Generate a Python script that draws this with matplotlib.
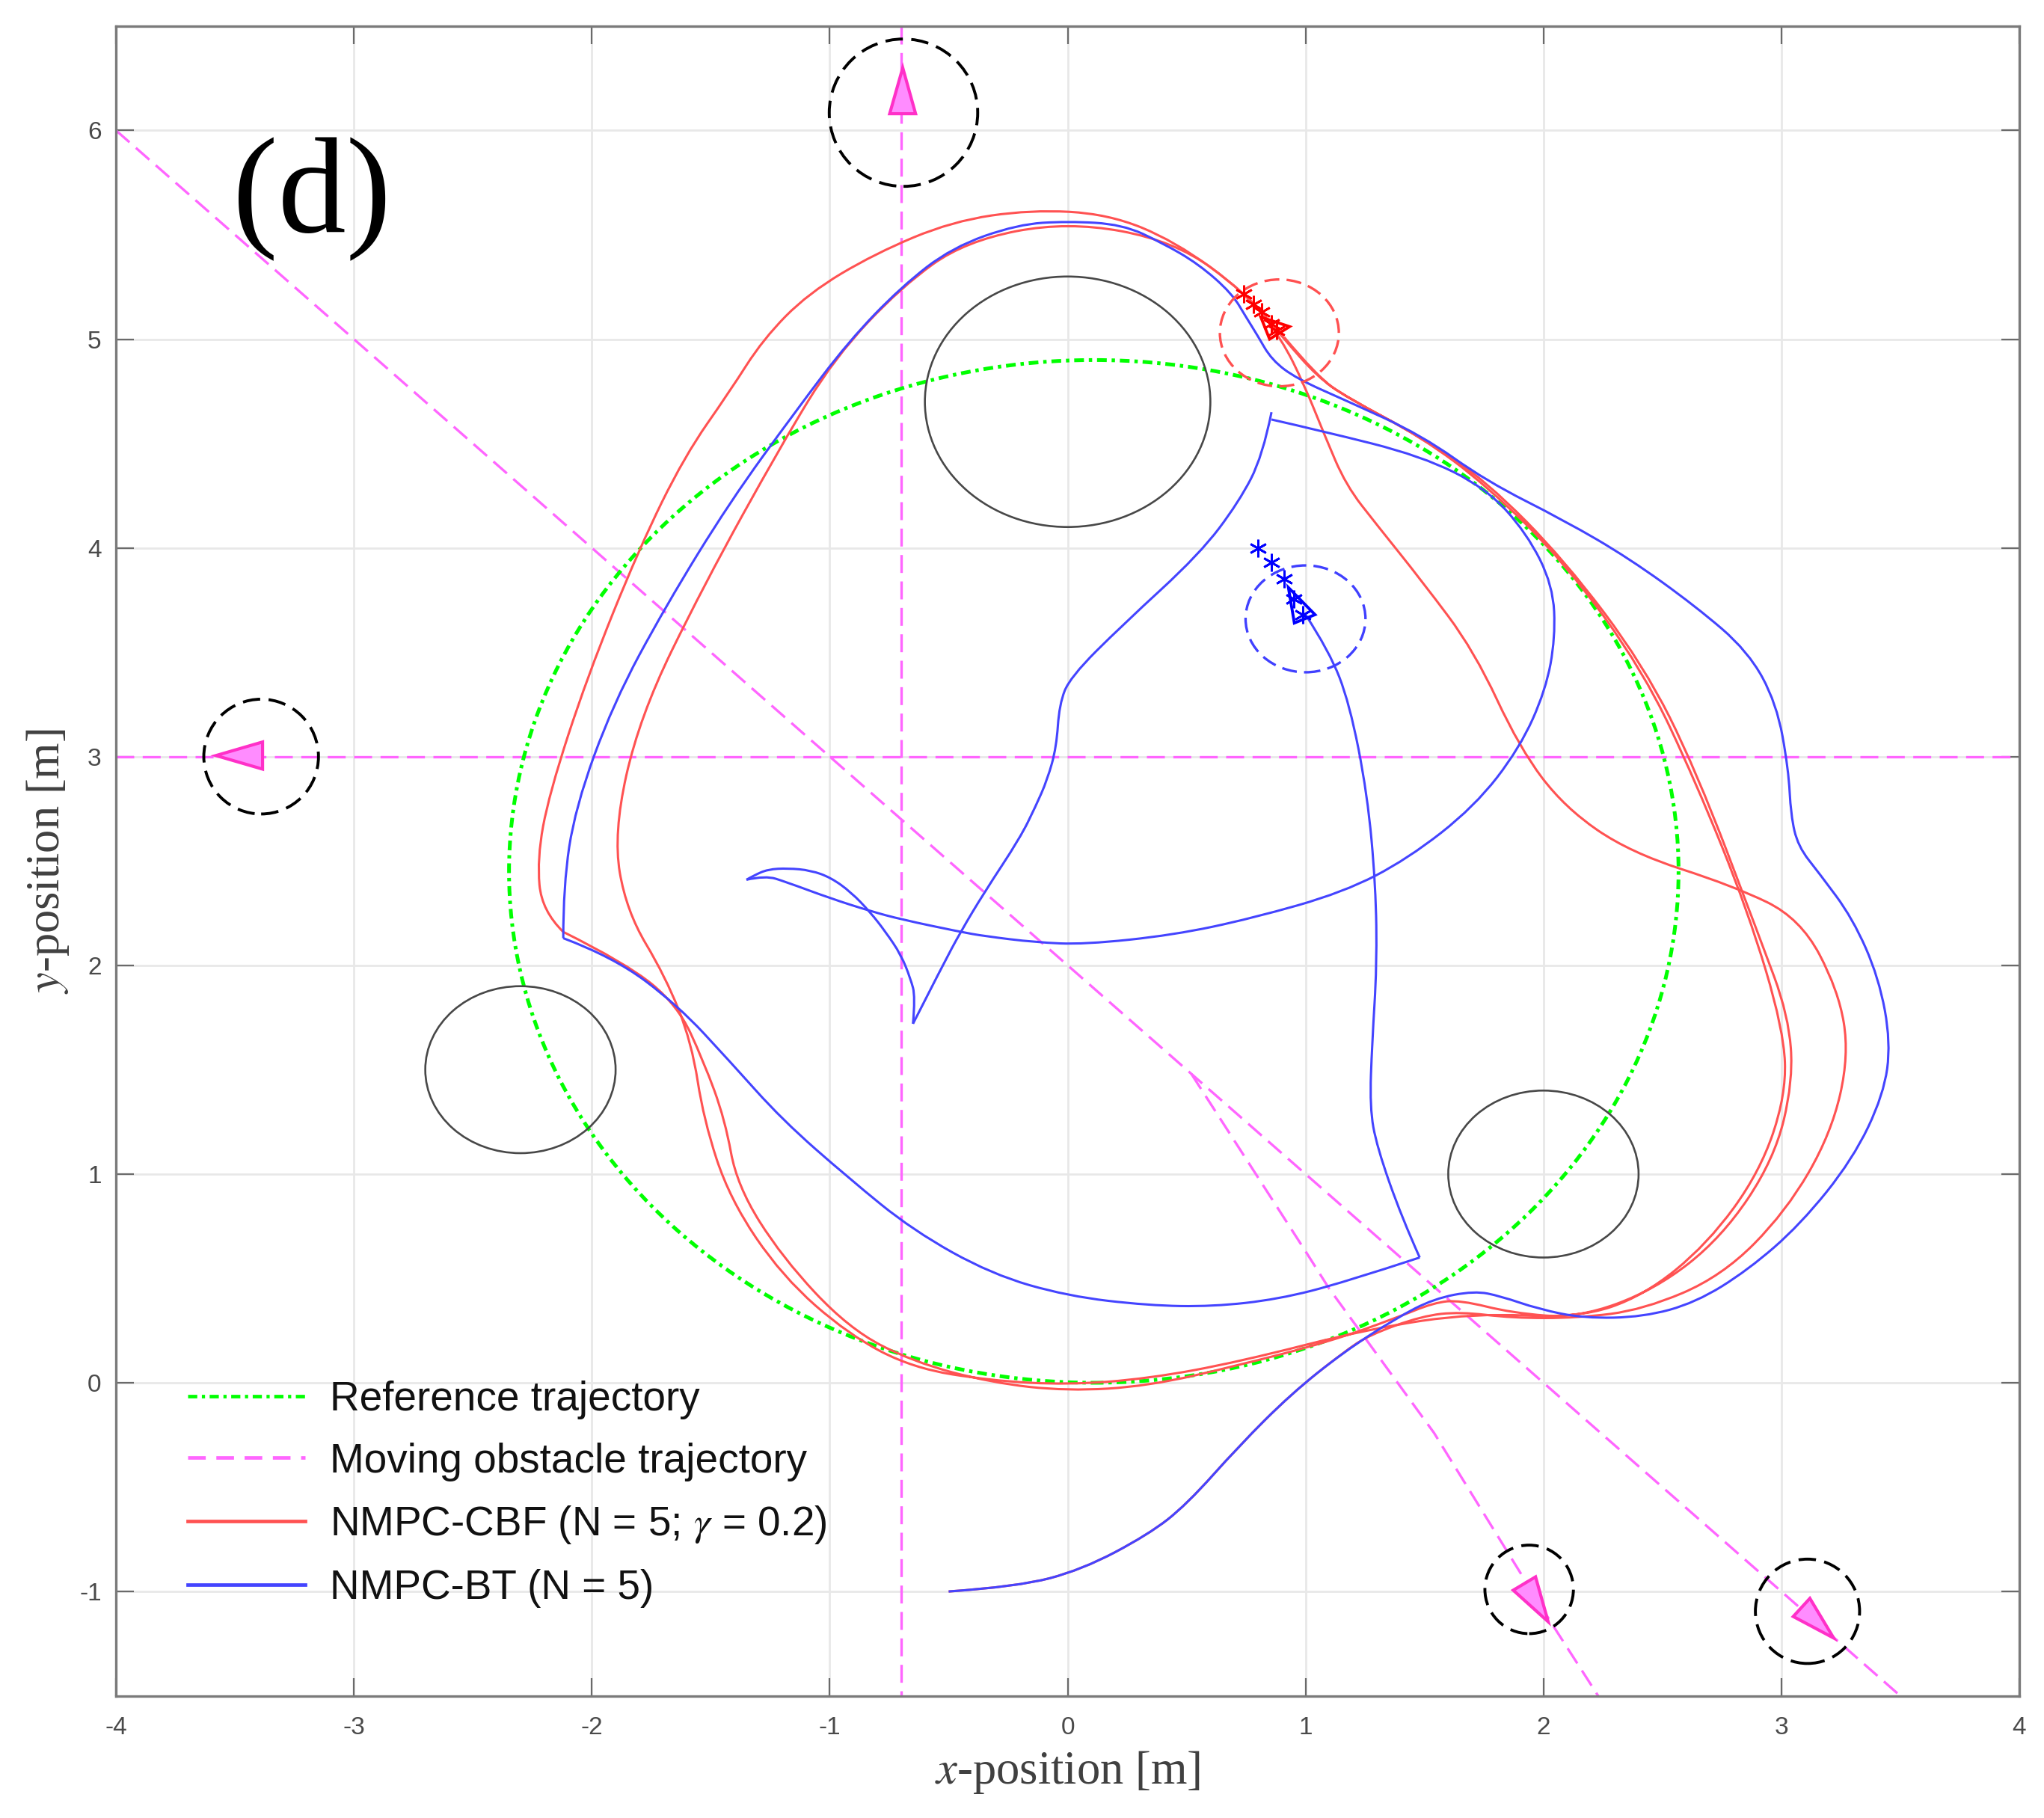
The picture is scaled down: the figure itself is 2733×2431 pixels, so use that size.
import matplotlib
matplotlib.use("Agg")
import matplotlib.pyplot as plt
from matplotlib.path import Path
from matplotlib.patches import PathPatch, Ellipse, Polygon
from matplotlib.lines import Line2D
from matplotlib.legend_handler import HandlerLine2D

plt.rcParams['font.family'] = ['Liberation Sans', 'DejaVu Sans']
plt.rcParams['axes.unicode_minus'] = False
plt.rcParams['mathtext.fontset'] = 'stix'

x_ticks = [-4, -3, -2, -1, 0, 1, 2, 3, 4]
y_ticks = [-1, 0, 1, 2, 3, 4, 5, 6]
x_tick_labels = ['-4', '-3', '-2', '-1', '0', '1', '2', '3', '4']
y_tick_labels = ['-1', '0', '1', '2', '3', '4', '5', '6']

reference_center = (0.11, 2.45)
reference_radius_x = 2.458
reference_radius_y = 2.45

static_obstacles = [((0.0, 4.7), 0.6), ((-2.3, 1.5), 0.4), ((2.0, 1.0), 0.4)]
# centre x, centre y, x radius, y radius
moving_circles = [(-0.69, 6.085, 0.312, 0.353), (-3.39, 3.0, 0.241, 0.275),
                  (1.94, -0.99, 0.186, 0.212), (3.11, -1.095, 0.219, 0.25)]
moving_triangles = [
    [(-0.693, 6.30), (-0.748, 6.08), (-0.639, 6.08)],
    [(-3.58, 3.005), (-3.384, 3.07), (-3.384, 2.94)],
    [(2.02, -1.145), (1.873, -0.994), (1.967, -0.93)],
    [(3.22, -1.223), (3.05, -1.12), (3.12, -1.033)],
]
obstacle_lines = [
    ([-4, 4], [3, 3]),
    ([-0.7, -0.7], [6.5, -1.5]),
    ([-4, 0.5, 3.5], [6, 1.5, -1.5]),
    ([0.52, 1.0, 1.10, 1.54, 2.03, 2.23], [1.48, 0.63, 0.45, -0.24, -1.145, -1.5]),
]

blue_a = [(-.50,-1.00),(-.21,-.977),(.06,-.896),(.34,-.727),(.50,-.584),(.72,-.303),(.94,-.053),
 (1.16,.147),(1.38,.309),(1.54,.403),(1.71,.44),(1.82,.415),(1.98,.353),(2.17,.309),(2.42,.315),
 (2.64,.384),(2.86,.54),(3.08,.758),(3.30,1.07),(3.43,1.38),(3.46,1.63),(3.41,1.94),(3.30,2.225),
 (3.16,2.44),(3.07,2.57),(3.04,2.72),(3.03,2.94),(2.98,3.255),(2.86,3.505),(2.64,3.72),(2.36,3.95),
 (2.09,4.13),(1.76,4.32),(1.488,4.54),(1.17,4.706),(.964,4.81),(.858,4.90),(.797,5.02),(.753,5.10),
 (.69,5.22),(.55,5.36),(.40,5.46),
 (.23,5.55),(0,5.565),(-.21,5.55),(-.485,5.44),(-.70,5.25),(-.92,4.99),(-1.14,4.66),(-1.42,4.22),
 (-1.69,3.72),(-1.91,3.255),(-2.07,2.755),(-2.12,2.38),(-2.12,2.13)]
blue_b = [(-2.12,2.13),(-1.91,2.04),(-1.64,1.81),(-1.42,1.54),(-1.20,1.26),(-.92,.98),(-.65,.73),(-.32,.52),
 (0,.415),(.34,.37),(.61,.365),(.885,.40),(1.16,.48),(1.48,.60)]
blue_c = [(1.48,.60),(1.405,.79),(1.30,1.13),(1.27,1.32),(1.28,1.63),(1.30,2.0),(1.295,2.38),(1.26,2.82),
 (1.185,3.255),(1.10,3.505),(1.0,3.68)]
blue_d = [(.857,4.615),(1.07,4.56),(1.488,4.44),(1.76,4.285),(1.93,4.07),(2.04,3.82),(2.05,3.57),(2.01,3.32),
 (1.90,3.04),(1.71,2.76),(1.43,2.51),(1.16,2.35),(.775,2.225),(.445,2.145),(.07,2.10),(-.135,2.11),
 (-.35,2.14),(-.45,2.16),(-.70,2.22),(-.83,2.26),(-.995,2.32),(-1.185,2.40),(-1.27,2.43),(-1.35,2.41)]
blue_e = [(-1.35,2.41),(-1.32,2.43),(-1.26,2.46),(-1.175,2.465),(-1.08,2.455),(-.995,2.42),(-.91,2.35),
 (-.83,2.255),(-.765,2.16),(-.70,2.05),(-.66,1.935),(-.64,1.85),(-.65,1.72)]
blue_f = [(-.65,1.72),(-.525,2.0),(-.45,2.16),(-.35,2.35),(-.20,2.61),(-.135,2.76),(-.085,2.89),(-.047,3.045),
 (-.035,3.25),(.01,3.38),(.23,3.63),(.555,3.97),(.72,4.22),(.82,4.44),(.857,4.65)]

red_a = [(-.50,-1.00),(-.21,-.977),(.06,-.896),(.34,-.727),(.50,-.584),(.72,-.303),(.94,-.053),(1.16,.147),
 (1.27,.23),(1.49,.32),(1.65,.34),(1.87,.31),(2.145,.31),(2.42,.35),(2.75,.51),(3.02,.82),(3.21,1.195),
 (3.285,1.57),(3.24,1.88),(3.08,2.225),(2.80,2.38),(2.365,2.54),(2.09,2.755),(1.90,3.04),(1.71,3.505),
 (1.49,3.84),(1.30,4.11),(1.17,4.30),(1.08,4.54),(.995,4.78),(.90,5.0),(.75,5.22),(.45,5.47),(.17,5.60),(-.155,5.62),
 (-.485,5.565),(-.81,5.41),(-1.09,5.22),(-1.28,5.0),(-1.42,4.75),(-1.61,4.44),(-1.80,4.0),(-2.02,3.38),
 (-2.18,2.82),(-2.23,2.51),(-2.21,2.26),(-2.12,2.16)]
red_b = [(-2.12,2.16),(-1.855,2.01),(-1.64,1.81),(-1.53,1.54),(-1.44,1.26),(-1.39,.945),(-1.20,.60),(-.92,.26),
 (-.65,.10),(-.32,0),(0,-.04),(.34,-.016),(.72,.084),(1.10,.197),(1.38,.31),(1.54,.384),(1.65,.396),
 (1.87,.334),(2.145,.31),(2.47,.446),(2.75,.696),(2.97,1.07),(3.05,1.445),(3.03,1.76),(2.91,2.13),
 (2.64,2.94),(2.42,3.44),(2.09,3.94),(1.76,4.32),(1.488,4.53),(1.175,4.72),(1.05,4.82),(.91,5.0),(.75,5.22),(.45,5.47),(0,5.565),
 (-.43,5.47),(-.70,5.25),(-.98,4.91),(-1.20,4.50),(-1.53,3.82),(-1.80,3.19),(-1.91,2.63),(-1.855,2.26),
 (-1.69,1.945),(-1.58,1.63),(-1.53,1.26),(-1.42,.88),(-1.20,.51),(-.92,.23),(-.65,.07),(-.32,.01),(0,-.01),(.34,.02),(.72,.10),
 (1.27,.26),(1.71,.334),(2.145,.31),(2.42,.415),(2.69,.665),(2.91,1.01),(3.02,1.38),(3.01,1.69),(2.86,2.26),
 (2.64,2.88),(2.42,3.41),(2.09,3.93),(1.76,4.30),(1.488,4.53),(1.175,4.72),(1.05,4.82),(.91,5.01)]

red_stars_x = [.739, .781, .817, .857, .88]
red_stars_y = [5.218, 5.165, 5.13, 5.075, 5.04]
blue_stars_x = [.80, .857, .91, .95, .99]
blue_stars_y = [4.0, 3.93, 3.85, 3.755, 3.68]
red_triangle = [(.933, 5.06), (.849, 5.0), (.812, 5.106)]
blue_triangle = [(1.04, 3.68), (.953, 3.64), (.928, 3.81)]
red_circle = (.89, 5.03, .25, .256)
blue_circle = (1.0, 3.66, .252, .256)

legend_labels = ['Reference trajectory', 'Moving obstacle trajectory',
                 r'NMPC-CBF (N = 5; $\gamma$ = 0.2)', 'NMPC-BT (N = 5)']

GREEN = '#00ff00'; MAG = '#ff66ff'; RED = '#ff5252'; BLUE = '#4444ff'
DD = (0, (2.6, 1.3, 0.9, 1.3))
MD = (0, (7.2, 3.4))
CD = (0, (6, 2.9))


def smooth(points):
    """Path with quadratic segments whose control points are the read points."""
    verts = [points[0]]
    codes = [Path.MOVETO]
    for i in range(1, len(points) - 1):
        p, q = points[i], points[i + 1]
        end = q if i == len(points) - 2 else ((p[0] + q[0]) / 2, (p[1] + q[1]) / 2)
        verts += [p, end]
        codes += [Path.CURVE3, Path.CURVE3]
    return Path(verts, codes)


fig = plt.figure(figsize=(27.33, 24.31), dpi=100)
ax = fig.add_axes([0.05676, 0.0672, 0.93112, 0.91846])
ax.set_xlim(-4, 4)
ax.set_ylim(-1.5, 6.5)
ax.set_xticks(x_ticks, x_tick_labels)
ax.set_yticks(y_ticks, y_tick_labels)
ax.grid(True, color='#e8e8e8', lw=2.0)
ax.set_axisbelow(True)
ax.tick_params(direction='in', length=17, width=1.6, color='#6a6a6a', labelcolor='#4a4a4a',
               labelsize=24, top=True, right=True, pad=14)
ax.tick_params(axis='x', pad=20)
for s in ax.spines.values():
    s.set_color('#7a7a7a')
    s.set_linewidth(2.4)

for xs, ys in obstacle_lines:
    ax.plot(xs, ys, color=MAG, lw=2.4, ls=MD, zorder=2)

ax.add_patch(Ellipse(reference_center, 2 * reference_radius_x, 2 * reference_radius_y, fill=False,
                     ec=GREEN, lw=3.6, ls=DD, zorder=3))

for c, r in static_obstacles:
    ax.add_patch(Ellipse(c, 2 * r, 2 * r, fill=False, ec='#484848', lw=1.9, zorder=3))

for cx, cy, rx, ry in moving_circles:
    ax.add_patch(Ellipse((cx, cy), 2 * rx, 2 * ry, fill=False, ec='black', lw=2.8, ls=CD, zorder=4))
for tri in moving_triangles:
    ax.add_patch(Polygon(tri, closed=True, fc='#ff8cff', ec='#ff30c8', lw=3.0, zorder=5))

for seg in (red_a, red_b):
    ax.add_patch(PathPatch(smooth(seg), fill=False, ec=RED, lw=2.2, zorder=6))
for seg in (blue_a, blue_b, blue_c, blue_d, blue_e, blue_f):
    ax.add_patch(PathPatch(smooth(seg), fill=False, ec=BLUE, lw=2.2, zorder=7))

ax.add_patch(Ellipse(red_circle[:2], 2 * red_circle[2], 2 * red_circle[3], fill=False, ec='#ff5050',
                     lw=2.4, ls=CD, zorder=8))
ax.add_patch(Ellipse(blue_circle[:2], 2 * blue_circle[2], 2 * blue_circle[3], fill=False, ec='#4040ff',
                     lw=2.4, ls=CD, zorder=8))
ax.add_patch(Polygon(red_triangle, closed=True, fill=False, ec='#ff0000', lw=2.8, zorder=9))
ax.add_patch(Polygon(blue_triangle, closed=True, fill=False, ec='#0000ff', lw=2.8, zorder=9))
ax.plot(red_stars_x, red_stars_y, ls='none', marker=(6, 2, 0), ms=17, mew=2.0, color='#ff0000', zorder=9)
ax.plot(blue_stars_x, blue_stars_y, ls='none', marker=(6, 2, 0), ms=17, mew=2.0, color='#0000ff', zorder=9)

ax.text(-3.51, 5.515, '(d)', family='Liberation Serif', fontsize=131, color='black', zorder=10)

ax.set_xlabel(r'$x$-position [m]', family='Liberation Serif', fontsize=45, color='#404040', labelpad=9)
ax.set_ylabel(r'$y$-position [m]', family='Liberation Serif', fontsize=45, color='#404040', labelpad=8)

handles = [Line2D([], [], color=GREEN, lw=3.4, ls=DD),
           Line2D([], [], color=MAG, lw=3.4, ls=(0, (5, 3))),
           Line2D([], [], color=RED, lw=3.4),
           Line2D([], [], color=BLUE, lw=3.4)]
ax.legend(handles, legend_labels, loc='lower left', bbox_to_anchor=(0.0377, 0.0527), frameon=False,
          fontsize=39.5, handlelength=2.86, handletextpad=0.6, labelspacing=0.56,
          labelcolor='#111111', borderaxespad=0, borderpad=0,
          handler_map={Line2D: HandlerLine2D(ypad=0.16)}).set_zorder(11)

fig.savefig('out.png', dpi=100)
